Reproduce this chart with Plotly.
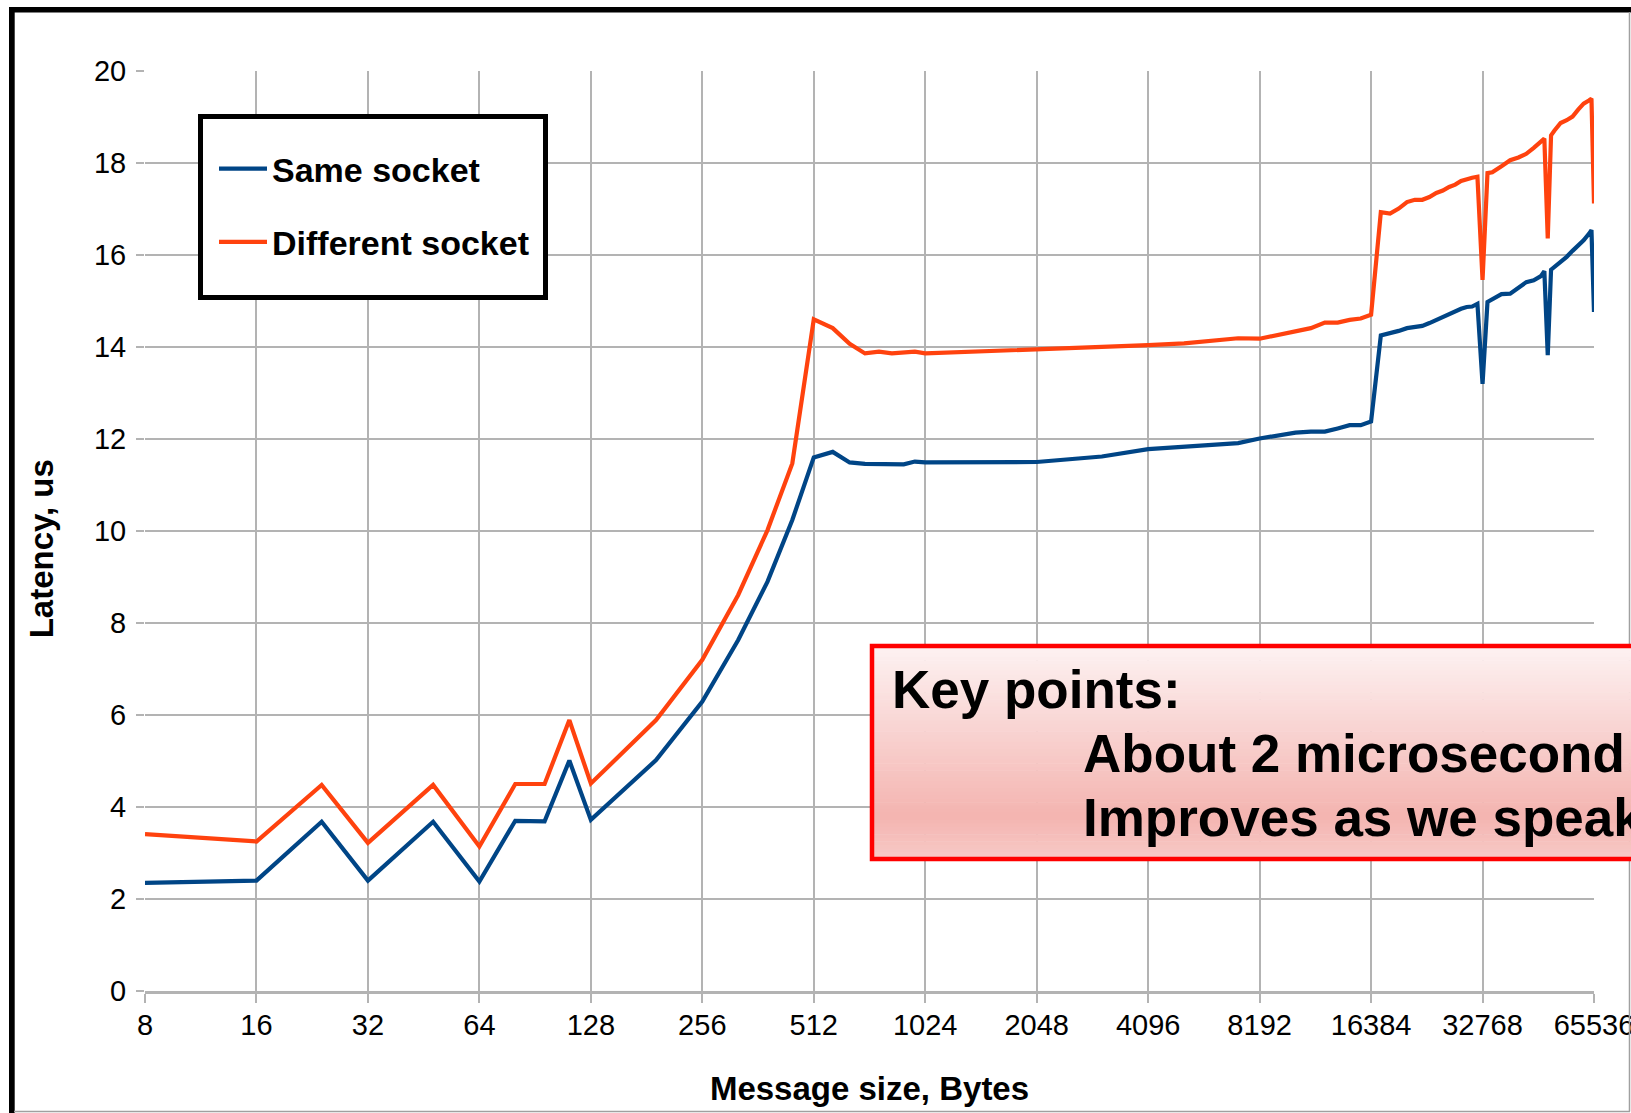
import plotly.graph_objects as go

# ---------------- data ----------------
msg_sizes = [8, 16, 24, 32, 48, 64, 80, 96, 112, 128, 192, 256, 320, 384, 448,
             512, 576, 640, 704, 768, 832, 896, 960, 1024, 2048, 3072, 4096,
             5120, 6144, 7168, 8192, 9216, 10240, 11264, 12288, 13312, 14336,
             15360, 16384, 17408, 18432, 19456, 20480, 21504, 22528, 23552,
             24576, 25600, 26624, 27648, 28672, 29696, 30720, 31744, 32768,
             33792, 34816, 36864, 38912, 40960, 43008, 45056, 47104, 48128,
             49152, 50176, 51200, 53248, 55296, 57344, 59392, 61440, 63488,
             64512, 65536]

same_socket = [2.35, 2.40, 3.68, 2.40, 3.68, 2.38, 3.70, 3.69, 5.01, 3.72, 5.02,
               6.29, 7.63, 8.90, 10.24, 11.60, 11.72, 11.49, 11.46, 11.46, 11.46,
               11.45, 11.51, 11.49, 11.50, 11.62, 11.78, 11.83, 11.87, 11.91,
               12.01, 12.09, 12.14, 12.16, 12.16, 12.23, 12.30, 12.30, 12.38,
               14.25, 14.29, 14.35, 14.41, 14.44, 14.46, 14.52, 14.59, 14.65,
               14.71, 14.76, 14.83, 14.87, 14.88, 14.94, 13.20, 14.98, 15.03,
               15.15, 15.16, 15.30, 15.41, 15.45, 15.54, 15.65, 13.82, 15.68,
               15.74, 15.83, 15.96, 16.09, 16.20, 16.32, 16.46, 16.54, 14.76]

diff_socket = [3.41, 3.25, 4.48, 3.22, 4.48, 3.14, 4.50, 4.50, 5.89, 4.51, 5.89,
               7.20, 8.61, 10.02, 11.47, 14.60, 14.41, 14.07, 13.86, 13.90, 13.86,
               13.88, 13.90, 13.86, 13.95, 13.99, 14.04, 14.08, 14.13, 14.19,
               14.18, 14.26, 14.33, 14.41, 14.53, 14.53, 14.59, 14.62, 14.70,
               16.93, 16.90, 17.01, 17.15, 17.20, 17.20, 17.26, 17.35, 17.40,
               17.48, 17.53, 17.61, 17.65, 17.68, 17.70, 15.46, 17.78, 17.80,
               17.93, 18.06, 18.12, 18.20, 18.33, 18.46, 18.53, 16.36, 18.60,
               18.70, 18.87, 18.93, 19.01, 19.16, 19.29, 19.36, 19.40, 17.12]

x_ticks = [8, 16, 32, 64, 128, 256, 512, 1024, 2048, 4096, 8192, 16384, 32768, 65536]
x_tick_labels = [str(v) for v in x_ticks]
y_ticks = list(range(0, 21, 2))

series_names = ["Same socket", "Different socket"]
series_colors = ["#004586", "#ff420e"]

# ---------------- geometry helpers ----------------
W, H = 1631, 1113
ML, MR, MT, MB = 145, 37, 71, 122
PW, PH = W - ML - MR, H - MT - MB


def px(p):
    return (p - ML) / PW


def py(p):
    return (H - MB - p) / PH


FONT = "Liberation Sans, Arial, Helvetica, sans-serif"
GRID = "#b3b3b3"

fig = go.Figure()
for name, vals, col, grp in zip(series_names, [same_socket, diff_socket],
                                series_colors, ["g1", "g2"]):
    fig.add_trace(go.Scatter(x=msg_sizes, y=vals, mode="lines", name=name,
                             legendgroup=grp,
                             line=dict(color=col, width=4.2)))

shapes = []
# frame of the slide
shapes.append(dict(type="rect", xref="paper", yref="paper", layer="above",
                   x0=px(9), x1=px(14.7), y0=py(1113), y1=py(7),
                   fillcolor="black", line=dict(width=0)))
shapes.append(dict(type="rect", xref="paper", yref="paper", layer="above",
                   x0=px(9), x1=px(1640), y0=py(12.4), y1=py(7),
                   fillcolor="black", line=dict(width=0)))
shapes.append(dict(type="line", xref="paper", yref="paper", layer="above",
                   x0=px(1629.5), x1=px(1629.5), y0=py(1111.5), y1=py(12),
                   line=dict(color="#a0a0a0", width=1.5)))
shapes.append(dict(type="line", xref="paper", yref="paper", layer="above",
                   x0=px(14), x1=px(1630), y0=py(1111.5), y1=py(1111.5),
                   line=dict(color="#a0a0a0", width=1.5)))

# legend box
shapes.append(dict(type="rect", xref="paper", yref="paper", layer="above",
                   x0=px(200.5), x1=px(545.5), y0=py(297.5), y1=py(116.5),
                   fillcolor="white", line=dict(color="black", width=5)))


# key points box with vertical gradient
def mix(c1, c2, t):
    return "rgb(%d,%d,%d)" % tuple(round(a + (b - a) * t) for a, b in zip(c1, c2))


top_c, mid_c, bot_c = (253, 242, 242), (244, 180, 176), (247, 202, 199)
bx0, bx1, by0, by1 = 872, 1700, 646, 859
n = 60
for i in range(n):
    t = (i + 0.5) / n
    if t < 0.8:
        c = mix(top_c, mid_c, t / 0.8)
    else:
        c = mix(mid_c, bot_c, (t - 0.8) / 0.2)
    ya = by0 + (by1 - by0) * i / n
    yb = by0 + (by1 - by0) * (i + 1) / n + 0.6
    shapes.append(dict(type="rect", xref="paper", yref="paper", layer="above",
                       x0=px(bx0), x1=px(bx1), y0=py(yb), y1=py(ya),
                       fillcolor=c, line=dict(width=0)))
shapes.append(dict(type="rect", xref="paper", yref="paper", layer="above",
                   x0=px(bx0), x1=px(bx1), y0=py(by1), y1=py(by0),
                   fillcolor="rgba(0,0,0,0)", line=dict(color="#ff0000", width=4.5)))

annotations = []
key_lines = [("Key points:", 890, 706.7),
             ("About 2 microsecond", 1081, 770),
             ("Improves as we speak", 1081, 834)]
for txt, x0, base in key_lines:
    annotations.append(dict(text=txt, xref="paper", yref="paper",
                            x=px(x0), y=py(base - 17), xanchor="left",
                            yanchor="middle", showarrow=False,
                            font=dict(family=FONT, size=53, color="black",
                                      weight="bold")))
annotations.append(dict(text="Latency, us", xref="paper", yref="paper",
                        x=px(41.6), y=py(548.7), xanchor="center",
                        yanchor="middle", textangle=-90, showarrow=False,
                        font=dict(family=FONT, size=33, color="black",
                                  weight="bold")))

fig.update_layout(
    width=W, height=H,
    margin=dict(l=ML, r=MR, t=MT, b=MB, pad=0, autoexpand=False),
    paper_bgcolor="white", plot_bgcolor="white",
    font=dict(family=FONT, color="black"),
    showlegend=True,
    legend=dict(x=px(214), y=py(140), xanchor="left", yanchor="top",
                xref="paper", yref="paper",
                bgcolor="rgba(0,0,0,0)", borderwidth=0,
                font=dict(family=FONT, size=34, color="black", weight="bold"),
                tracegroupgap=26, itemwidth=48),
    shapes=shapes,
    annotations=annotations,
)

fig.update_xaxes(type="log", range=[0.90309, 4.81648], automargin=False,
                 tickvals=x_ticks, ticktext=x_tick_labels,
                 tickfont=dict(family=FONT, size=29, color="black"),
                 ticklabeloverflow="allow", ticklabelstandoff=-3,
                 showgrid=True, gridcolor=GRID, gridwidth=1.5,
                 ticks="outside", ticklen=9, tickcolor=GRID, tickwidth=1.5,
                 showline=True, linecolor=GRID, linewidth=3,
                 zeroline=False,
                 title=dict(text="Message size, Bytes", standoff=38,
                            font=dict(family=FONT, size=33, color="black",
                                      weight="bold")))
fig.update_yaxes(range=[0, 20], tickvals=y_ticks, automargin=False,
                 tickfont=dict(family=FONT, size=29, color="black"),
                 showgrid=True, gridcolor=GRID, gridwidth=1.5,
                 ticks="outside", ticklen=8, tickcolor=GRID, tickwidth=1.5,
                 ticklabelstandoff=4,
                 zeroline=False, showline=False)

fig.write_html("out.html",
               config={"displayModeBar": False},
               post_script="document.body.style.margin='0';"
                           "document.body.style.overflow='hidden';")
